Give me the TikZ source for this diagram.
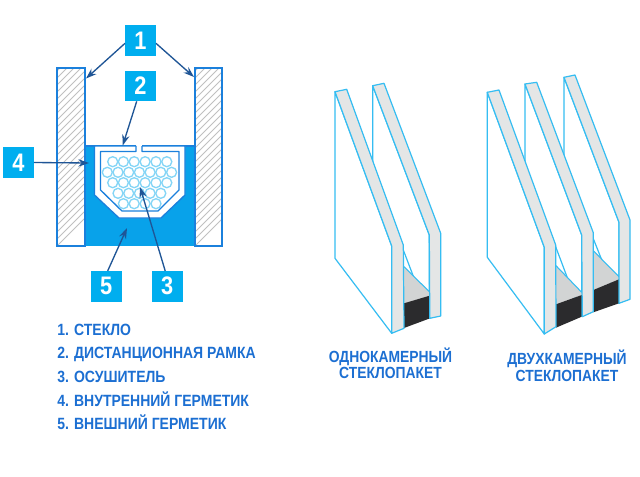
\documentclass[tikz,border=0pt]{standalone}
\usepackage{fontspec}
\setmainfont{Liberation Sans}[FakeStretch=0.86]
\usetikzlibrary{arrows.meta}
\definecolor{boxblue}{HTML}{00AEEF}
\definecolor{sealblue}{HTML}{08A2EA}
\definecolor{wallblue}{HTML}{1B80DC}
\definecolor{arrowblue}{HTML}{1F5596}
\definecolor{textblue}{HTML}{1C6FD2}
\definecolor{paneline}{HTML}{35BDF2}
\definecolor{panegrey}{HTML}{E4E6E6}
\definecolor{spacegrey}{HTML}{D2D4D4}
\definecolor{spacedark}{HTML}{2B2B2D}
\definecolor{beadblue}{HTML}{84D5F6}
\definecolor{hatchgrey}{HTML}{C0C0C0}
\tikzset{
  numbox/.style={fill=boxblue,text=white,font=\bfseries\fontsize{19}{19}\selectfont,minimum width=23.2pt,minimum height=23pt,inner sep=0pt,outer sep=0pt},
  callout/.style={draw=arrowblue,line width=1pt,-{Stealth[length=8pt,width=5.5pt]}},
  wall/.style={draw=wallblue,line width=1pt},
  frameline/.style={draw=wallblue,line width=1pt,line join=round},
  paneface/.style={draw=paneline,line width=0.9pt,fill=white,line join=round},
  paneedge/.style={draw=paneline,line width=0.9pt,fill=panegrey,line join=round},
  spacertop/.style={fill=spacegrey,draw=none},
  spacerbody/.style={fill=spacedark,draw=none},
  listitem/.style={anchor=base west,text=textblue,font=\bfseries\fontsize{12.2}{13}\selectfont,inner sep=0pt},
  caption/.style={anchor=base,text=textblue,font=\bfseries\fontsize{12.1}{13}\selectfont,inner sep=0pt}
}
\newcommand{\hatchwall}[4]{%
  \begin{scope}
    \clip (#1,#2) rectangle (#3,#4);
    \foreach \k in {0,7,...,238}{
      \draw[hatchgrey,line width=0.65pt] (#1-5,#4+5-\k) -- ++(40,-40);
    }
  \end{scope}
  \draw[wall] (#1,#2) rectangle (#3,#4);
}
\begin{document}
\begin{tikzpicture}[x=0.75pt,y=-0.75pt]
\useasboundingbox[fill=white] (0,0) rectangle (640,476);

% sealant
\fill[sealblue] (85,146) rectangle (195,246);
% walls
\hatchwall{57}{68}{85}{246}
\hatchwall{195}{68}{222}{246}
\draw[wall] (85,146) -- (136,146);
\draw[wall] (142,146) -- (195,146);
% spacer frame: white body
\fill[white] (94.5,146) -- (94.5,195) -- (119,218) -- (161,218) -- (185,195) -- (185,146) -- cycle;
% spacer frame: outer outline with open slot
\draw[frameline] (136,146) -- (94.5,146) -- (94.5,195) -- (119,218) -- (161,218) -- (185,195) -- (185,146) -- (142,146);
% spacer frame: inner outline
\draw[frameline] (136,146) -- (136,151.5) -- (100.5,151.5) -- (100.5,190) -- (122,211) -- (158,211) -- (179,190) -- (179,151.5) -- (142,151.5) -- (142,146);
% desiccant beads
\begin{scope}[beadblue,line width=1pt]
\foreach \x in {112.7,123.4,134.2,145.1,156,166.8}{\draw (\x,161.7) circle[radius=5];\draw (\x,182.7) circle[radius=5];}
\foreach \x in {107.3,118,128.7,139.4,150.1,160.8,171.6}{\draw (\x,172.3) circle[radius=5];}
\foreach \x in {118,128.7,139.4,150.1,160.8}{\draw (\x,193.3) circle[radius=5];}
\foreach \x in {123.4,134.2,145.1,156}{\draw (\x,203.7) circle[radius=5];}
\end{scope}

% number boxes
\node[numbox] (n1) at (140.5,40.3) {1};
\node[numbox] (n2) at (140.5,86) {2};
\node[numbox] (n4) at (18.5,162.5) {4};
\node[numbox] (n5) at (106.2,286.2) {5};
\node[numbox] (n3) at (167.2,286.2) {3};
% connector targets
\coordinate (t1a) at (86,78.5);
\coordinate (t1b) at (194,77);
\coordinate (t2) at (122.7,145.5);
\coordinate (t4) at (89,163);
\coordinate (t5) at (127,228);
\coordinate (t3) at (140,187);
\draw[callout] (n1.west) ++(0,3) -- (t1a);
\draw[callout] (n1.east) ++(0,3) -- (t1b);
\draw[callout] (n2.south) ++(-3.8,0) -- (t2);
\draw[callout] (n4.east) -- (t4);
\draw[callout] (n5.north) ++(1.5,0) -- (t5);
\draw[callout] (n3.north) ++(-2,0) -- (t3);

% single chamber unit: rear pane
\draw[paneface] (372.7,85.7) -- (372.7,170) -- (429.3,318) -- (429.3,235) -- cycle;
\fill[spacertop] (404,266.7) -- (429.3,291.7) -- (429.3,295.7) -- (405,303.3) -- (404,303) -- cycle;
\fill[spacerbody] (404,303.3) -- (429.5,295.7) -- (430,318.3) -- (404,328) -- cycle;
\draw[paneline,line width=0.8pt] (404,266.7) -- (429.3,291.7);
\draw[paneedge] (372.7,85.7) -- (384,83.3) -- (440.7,233.3) -- (440.7,316) -- (429.8,318.3) -- (429.3,235) -- cycle;
% single chamber unit: front pane
\draw[paneface] (335,91.7) -- (335,258.3) -- (391.7,333.3) -- (391.7,246) -- cycle;
\draw[paneedge] (335,91.7) -- (346.7,89.3) -- (403.3,245) -- (404,328.3) -- (391.7,333.3) -- (391.7,246) -- cycle;

% double chamber unit: rear pane
\draw[paneface] (564,77.3) -- (564,165) -- (619,303.3) -- (619,222.3) -- cycle;
\fill[spacertop] (593.3,250.7) -- (619,276.7) -- (619,279.3) -- (593.3,290) -- cycle;
\fill[spacerbody] (593.3,290) -- (619,279.3) -- (619,303.3) -- (593.3,312.3) -- cycle;
\draw[paneline,line width=0.8pt] (593.3,250.7) -- (619,276.7);
\draw[paneedge] (564,77.3) -- (575,75) -- (630,220) -- (630,299.3) -- (619,303.3) -- (619,222.3) -- cycle;
% double chamber unit: middle pane
\draw[paneface] (525,84) -- (525,165) -- (581.7,316) -- (581.7,235) -- cycle;
\fill[spacertop] (556,265.7) -- (581.7,292.3) -- (581.7,295) -- (556,304.3) -- cycle;
\fill[spacerbody] (556,304.3) -- (581.7,295) -- (581.7,316.7) -- (556,327.7) -- cycle;
\draw[paneline,line width=0.8pt] (556,265.7) -- (581.7,292.3);
\draw[paneedge] (525,84) -- (536.7,82.3) -- (593.3,232.7) -- (593.3,311.7) -- (582.3,316.7) -- (581.7,235) -- cycle;
% double chamber unit: front pane
\draw[paneface] (487.3,92.3) -- (487.3,257.3) -- (544.3,334) -- (544.3,247.3) -- cycle;
\draw[paneedge] (487.3,92.3) -- (499,90) -- (555.7,245) -- (556,326.7) -- (544.3,334) -- (544.3,247.3) -- cycle;

% legend
\node[listitem] (l1) at (57,335.5) {1. СТЕКЛО};
\node[listitem] (l2) at (57,358.8) {2. ДИСТАНЦИОННАЯ РАМКА};
\node[listitem] (l3) at (57,382.8) {3. ОСУШИТЕЛЬ};
\node[listitem] (l4) at (57,406.5) {4. ВНУТРЕННИЙ ГЕРМЕТИК};
\node[listitem] (l5) at (57,429.8) {5. ВНЕШНИЙ ГЕРМЕТИК};
% captions
\node[caption] (c1a) at (390.5,362.2) {ОДНОКАМЕРНЫЙ};
\node[caption] (c1b) at (390.5,378.8) {СТЕКЛОПАКЕТ};
\node[caption] (c2a) at (567,364.5) {ДВУХКАМЕРНЫЙ};
\node[caption] (c2b) at (567,381.2) {СТЕКЛОПАКЕТ};
\end{tikzpicture}
\end{document}
